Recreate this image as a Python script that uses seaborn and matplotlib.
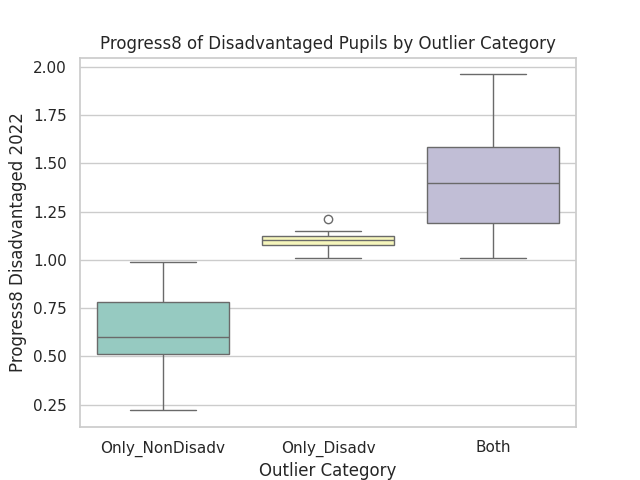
import matplotlib
matplotlib.use("Agg")
import matplotlib.pyplot as plt
import pandas as pd
import seaborn as sns

categories = ["Only_NonDisadv", "Only_Disadv", "Both"]
only_nondisadv = [0.22, 0.51, 0.60, 0.78, 0.99]
only_disadv = [1.01, 1.05, 1.075, 1.09, 1.10, 1.11, 1.125, 1.15, 1.21]
both = [1.01, 1.19, 1.40, 1.585, 1.96]

rows = []
for cat, vals in zip(categories, [only_nondisadv, only_disadv, both]):
    rows += [(cat, v) for v in vals]
df = pd.DataFrame(rows, columns=["Outlier Category", "Progress8 Disadvantaged 2022"])

sns.set_theme(style="whitegrid")
plt.figure(figsize=(6.4, 4.8), dpi=100)
sns.boxplot(
    data=df,
    x="Outlier Category",
    y="Progress8 Disadvantaged 2022",
    hue="Outlier Category",
    order=categories,
    palette="Set3",
    legend=False,
)
plt.title("Progress8 of Disadvantaged Pupils by Outlier Category")
plt.savefig("out.png")
plt.close()
